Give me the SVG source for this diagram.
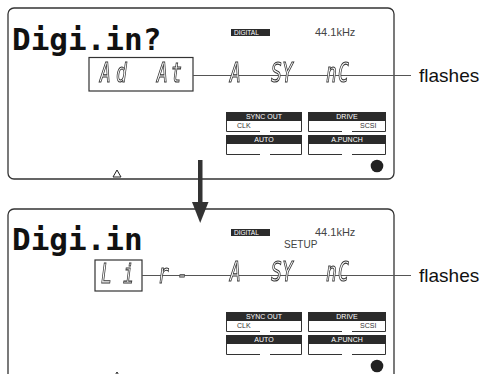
<svg xmlns="http://www.w3.org/2000/svg" width="489" height="374" viewBox="0 0 489 374">
<style>
.panel{fill:#fff;stroke:#333;stroke-width:1.3}
.dm{font-family:"DejaVu Sans Mono",monospace;font-weight:bold;font-size:31px;fill:#111}
.seg{font-family:"DejaVu Sans Mono",monospace;font-style:italic;font-size:18px;fill:#fff;stroke:#333;stroke-width:0.7}
.box{fill:none;stroke:#333;stroke-width:1.2}
.lead{stroke:#555;stroke-width:1.2;fill:none}
.lab{font-family:"Liberation Sans",Arial,sans-serif;font-size:19px;fill:#111}
.small{font-family:"Liberation Sans",Arial,sans-serif;font-size:11px;fill:#444}
.tag{fill:#2b2b2b}
.tagt{font-family:"Liberation Sans",Arial,sans-serif;font-size:6.5px;fill:#fff}
.bt{font-family:"Liberation Sans",Arial,sans-serif;font-size:7px;fill:#fff;text-anchor:middle}
.bl{font-family:"Liberation Sans",Arial,sans-serif;font-size:7px;fill:#333}
.bo{fill:none;stroke:#333;stroke-width:1}
.tri{fill:#fff;stroke:#222;stroke-width:1}
</style>
<defs>
<filter id="gray" x="0" y="0" width="1" height="1"><feOffset dx="0" dy="0"/></filter>
<g id="buttons">
<rect class="tag" x="226" y="112" width="76" height="9"/>
<text class="bt" x="264" y="119">SYNC OUT</text>
<path class="bo" d="M226.5,121 V131.5 H260 M270,131.5 H301.5 V121"/>
<text class="bl" x="237" y="128">CLK</text>
<rect class="tag" x="308" y="112" width="78" height="9"/>
<text class="bt" x="347" y="119">DRIVE</text>
<path class="bo" d="M308.5,121 V131.5 H342 M352,131.5 H385.5 V121"/>
<text class="bl" x="360" y="128">SCSI</text>
<rect class="tag" x="226" y="135" width="76" height="9"/>
<text class="bt" x="264" y="142">AUTO</text>
<path class="bo" d="M226.5,144 V154.5 H260 M270,154.5 H301.5 V144"/>
<rect class="tag" x="308" y="135" width="78" height="9"/>
<text class="bt" x="347" y="142">A.PUNCH</text>
<path class="bo" d="M308.5,144 V154.5 H342 M352,154.5 H385.5 V144"/>
<circle cx="377" cy="166" r="6.3" fill="#222"/>
</g>
</defs>

<g id="panel-top">
<rect class="panel" x="8" y="8" width="386" height="171" rx="6"/>
<text class="dm" x="12" y="50">Digi.in?</text>
<rect class="tag" x="231" y="29" width="39" height="7"/>
<text class="tagt" x="234" y="35">DIGITAL</text>
<text class="small" x="315" y="36">44.1kHz</text>
<rect class="box" x="89" y="57.5" width="104" height="33.5"/>
<use href="#buttons"/>
<path class="tri" d="M117,170 L121,177 L113,177 Z"/>
</g>

<g id="panel-bottom">
<rect class="panel" x="8" y="209" width="386" height="180" rx="6"/>
<text class="dm" x="12" y="250">Digi.in</text>
<rect class="tag" x="231" y="229" width="39" height="7"/>
<text class="tagt" x="234" y="235">DIGITAL</text>
<text class="small" x="315" y="236">44.1kHz</text>
<text class="small" x="284" y="248" style="font-size:10px">SETUP</text>
<rect class="box" x="95" y="260" width="47" height="31"/>
<use href="#buttons" transform="translate(0,200)"/>
<path class="tri" d="M117,372 L121,379 L113,379 Z"/>
</g>

<g id="connectors">
<line class="lead" x1="193" y1="75.5" x2="411" y2="75.5"/>
<line class="lead" x1="142" y1="275.5" x2="411" y2="275.5"/>
<rect x="198" y="160" width="4.5" height="44" fill="#333"/>
<path d="M192,202 L208.5,202 L200.2,223 Z" fill="#333"/>
</g>

<g id="seg-top" filter="url(#gray)">
<text class="seg" transform="scale(1,1.5)" x="100 116 157 171" y="54.5">AdAt</text>
<text class="seg" transform="scale(1,1.5)" x="230 271 282 326 338" y="54.5">ASYnC</text>
</g>
<g id="seg-bottom" filter="url(#gray)">
<text class="seg" transform="scale(1,1.5)" x="101 123 158 177" y="188.7">Lir-</text>
<text class="seg" transform="scale(1,1.5)" x="230 271 282 326 338" y="187.5">ASYnC</text>
</g>

<text class="lab" x="419" y="82">flashes</text>
<text class="lab" x="419" y="282">flashes</text>
</svg>
